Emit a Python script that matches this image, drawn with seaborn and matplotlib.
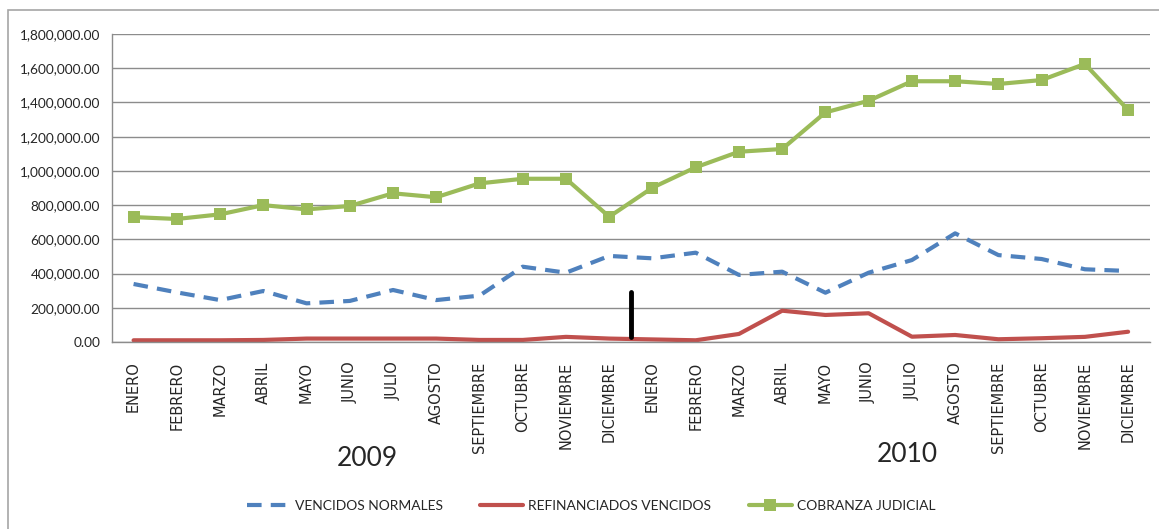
import numpy as np
import pandas as pd
import matplotlib
matplotlib.use("Agg")
import matplotlib.pyplot as plt
import seaborn as sns
from matplotlib.patches import Rectangle
from matplotlib.ticker import FuncFormatter

# data
meses = ["ENERO", "FEBRERO", "MARZO", "ABRIL", "MAYO", "JUNIO", "JULIO",
         "AGOSTO", "SEPTIEMBRE", "OCTUBRE", "NOVIEMBRE", "DICIEMBRE"]
etiquetas = meses + meses
anios = ["2009", "2010"]

vencidos_normales = [339000, 290000, 245000, 298000, 226000, 240000, 304000,
                     245000, 271000, 440000, 405000, 503000,
                     489000, 522000, 392000, 411000, 288000, 405000, 479000,
                     635000, 508000, 485000, 425000, 415000]
refinanciados_vencidos = [10000, 10000, 10000, 12000, 20000, 20000, 20000,
                          20000, 12000, 12000, 30000, 20000,
                          15000, 10000, 47000, 183000, 158000, 168000, 31000,
                          41000, 16000, 22000, 30000, 60000]
cobranza_judicial = [730000, 719000, 746000, 800000, 775000, 795000, 869000,
                     846000, 927000, 954000, 954000, 732000,
                     902000, 1021000, 1112000, 1128000, 1342000, 1410000, 1524000,
                     1524000, 1508000, 1531000, 1625000, 1356000]

df = pd.DataFrame({
    "pos": np.arange(len(etiquetas)),
    "VENCIDOS NORMALES": vencidos_normales,
    "REFINANCIADOS VENCIDOS": refinanciados_vencidos,
    "COBRANZA JUDICIAL": cobranza_judicial,
})

sns.set_style("white")
plt.rcParams["font.family"] = ["Lato", "DejaVu Sans"]

fig = plt.figure(figsize=(11.59, 5.29), dpi=100)
ax = fig.add_axes([0.0966, 0.3535, 0.8954, 0.5822])

# border around the whole chart
fig.patches.append(Rectangle((8 / 1159, -0.2), 1.2, 1.2 - 10 / 529,
                             transform=fig.transFigure, fill=False,
                             edgecolor="#a6a6a6", linewidth=1.2, zorder=0))

sns.lineplot(data=df, x="pos", y="VENCIDOS NORMALES", ax=ax, color="#4F81BD",
             linewidth=3, label="VENCIDOS NORMALES")
ax.lines[-1].set_dashes([3.5, 2.2])
sns.lineplot(data=df, x="pos", y="REFINANCIADOS VENCIDOS", ax=ax, color="#C0504D",
             linewidth=3, label="REFINANCIADOS VENCIDOS")
sns.lineplot(data=df, x="pos", y="COBRANZA JUDICIAL", ax=ax, color="#9BBB59",
             linewidth=3, marker="s", markersize=8, markeredgewidth=0,
             label="COBRANZA JUDICIAL")

# black separator mark between the two years
ax.plot([11.5, 11.5], [30000, 290000], color="black", linewidth=3.5, zorder=5)

ax.set_xlim(-0.5, 23.5)
ax.set_ylim(0, 1800000)
ax.set_yticks(np.arange(0, 1800001, 200000))
ax.yaxis.set_major_formatter(FuncFormatter(lambda v, p: f"{v:,.2f}"))
ax.yaxis.grid(True, color="#8c8c8c", linewidth=1)
ax.set_axisbelow(True)

ax.set_xticks(np.arange(-0.5, 24, 1))
ax.set_xticklabels([])
ax.set_xticks(np.arange(24), minor=True)
ax.set_xticklabels(etiquetas, minor=True, rotation=90, family="DejaVu Sans",
                   fontsize=10.5, va="top")
ax.tick_params(axis="x", which="major", length=5, color="#8c8c8c", direction="out")
ax.tick_params(axis="x", which="minor", length=0, pad=14)
ax.tick_params(axis="y", length=5, color="#8c8c8c", labelsize=9.8, direction="out")
ax.set_xlabel("")
ax.set_ylabel("")

for s in ["top", "right"]:
    ax.spines[s].set_visible(False)
for s in ["left", "bottom"]:
    ax.spines[s].set_color("#8c8c8c")
    ax.spines[s].set_linewidth(1)

fig.text(367 / 1159, 1 - 458 / 529, anios[0], fontsize=19, ha="center", va="center")
fig.text(907 / 1159, 1 - 455 / 529, anios[1], fontsize=19, ha="center", va="center")

ax.legend(loc="center", bbox_to_anchor=(0.51, 0.043), bbox_transform=fig.transFigure,
          ncol=3, frameon=False, fontsize=10, handlelength=3.1, columnspacing=2.7,
          handletextpad=0.35)

fig.savefig("out.png", dpi=100)
